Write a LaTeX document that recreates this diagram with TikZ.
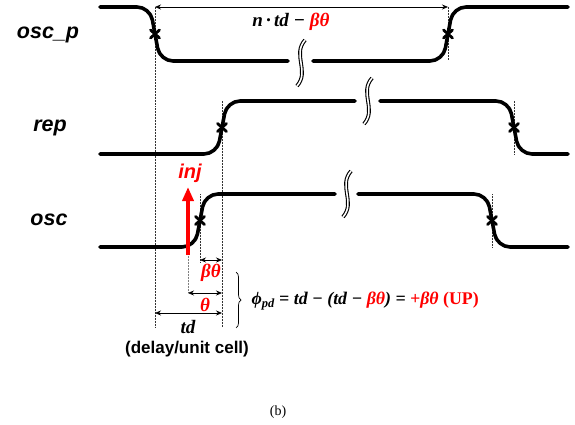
\documentclass[tikz,border=0pt]{standalone}
\usepackage{fontspec}
\setmainfont{Liberation Serif}
\setsansfont{Liberation Sans}
\usetikzlibrary{arrows.meta,decorations.pathreplacing}
\newcommand{\wavebreak}[2]{\draw[brkline] (#1+4,#2-23) .. controls (#1-9,#2-8) and (#1+9,#2+8) .. (#1-4,#2+23);}
\begin{document}
\begin{tikzpicture}[x=1pt,y=-1pt,
  wave/.style={line width=3.6pt, rounded corners=13pt, line cap=round},
  brkline/.style={draw=black, double=white, double distance=1.6pt, line width=1.1pt},
  dotline/.style={densely dotted, line width=0.5pt, black!80},
  dim/.style={line width=0.7pt, {Stealth[length=6pt,width=5pt]}-{Stealth[length=6pt,width=5pt]}},
  crossmark/.style={line width=2.8pt, line cap=round},
  siglabel/.style={font=\fontsize{21.5}{21.5}\selectfont\sffamily\bfseries\itshape},
  mathlbl/.style={font=\fontsize{19}{19}\selectfont\bfseries\itshape},
]
\useasboundingbox (0,0) rectangle (575,425);

% dotted guides
\draw[dotline] (155,7) -- (155,327);
\draw[dotline] (448,7) -- (448,61);
\draw[dotline] (222,101) -- (222,327);
\draw[dotline] (514,101) -- (514,154);
\draw[dotline] (200,194) -- (200,262);
\draw[dotline] (492,194) -- (492,247);
\draw[dotline, gray] (188,254) -- (188,293);

% osc_p
\draw[wave] (100,7) -- (150,7) -- (160,61) -- (288,61);
\draw[wave] (313,61) -- (443,61) -- (453,7) -- (568,7);
\wavebreak{301}{63}
% rep
\draw[wave] (100,154) -- (217,154) -- (227,101) -- (355,101);
\draw[wave] (380,101) -- (509,101) -- (519,154) -- (568,154);
\wavebreak{368}{101}
% osc
\draw[wave] (100,247) -- (195,247) -- (205,194) -- (335,194);
\draw[wave] (358,194) -- (487,194) -- (497,247) -- (568,247);
\wavebreak{347}{194}

% crossing marks
\foreach \cx/\cy in {155/34, 448/34, 222/127.5, 514/127.5, 200/220.5, 492/220.5}{
  \draw[crossmark] (\cx-4.5,\cy-4) -- (\cx+4.5,\cy+4);
  \draw[crossmark] (\cx+4.5,\cy-4) -- (\cx-4.5,\cy+4);
}

% inj arrow
\coordinate (injbot) at (188,255);
\coordinate (injtop) at (188,187);
\draw[red, line width=3.5pt, -{Triangle[length=14pt,width=11pt]}] (injbot) -- (injtop);
\node[red, font=\fontsize{20}{20}\selectfont\sffamily\bfseries\itshape] (inj) at (190,173) {inj};

% dimension arrows
\coordinate (a1) at (155,7); \coordinate (a2) at (448,7);
\draw[dim] (a1) -- (a2);
\coordinate (b1) at (200,260); \coordinate (b2) at (222,260);
\draw[dim] (b1) -- (b2);
\coordinate (c1) at (188,293); \coordinate (c2) at (222,293);
\draw[dim] (c1) -- (c2);
\coordinate (d1) at (155,313); \coordinate (d2) at (222,313);
\draw[dim] (d1) -- (d2);

% labels
\node[mathlbl] (ntd) at (291,22) {n\,·\,td − \textcolor{red}{βθ}};
\node[mathlbl, red] (bt) at (211,273) {βθ};
\node[mathlbl, red] (th) at (205,305) {θ};
\node[mathlbl] (td) at (188,327) {td};
\node[font=\fontsize{17}{17}\selectfont\sffamily\bfseries] (delay) at (187,349) {(delay/unit cell)};

\node[siglabel] (loscp) at (48,35) {osc\_p};
\node[siglabel] (lrep) at (50,128) {rep};
\node[siglabel] (losc) at (49,220) {osc};

% brace and formula
\coordinate (br1) at (236,272); \coordinate (br2) at (236,328);
\draw[line width=0.7pt, decorate, decoration={brace, amplitude=5pt}] (br1) -- (br2);
\node[anchor=west, font=\fontsize{17.8}{17.8}\selectfont\bfseries\itshape] (formula) at (248,301)
  {ϕ\textsubscript{pd} = td − (td − \textcolor{red}{βθ}) = \textcolor{red}{+βθ \textup{(UP)}}};

\node[font=\fontsize{14}{14}\selectfont] (cap) at (278,412) {(b)};
\end{tikzpicture}
\end{document}
